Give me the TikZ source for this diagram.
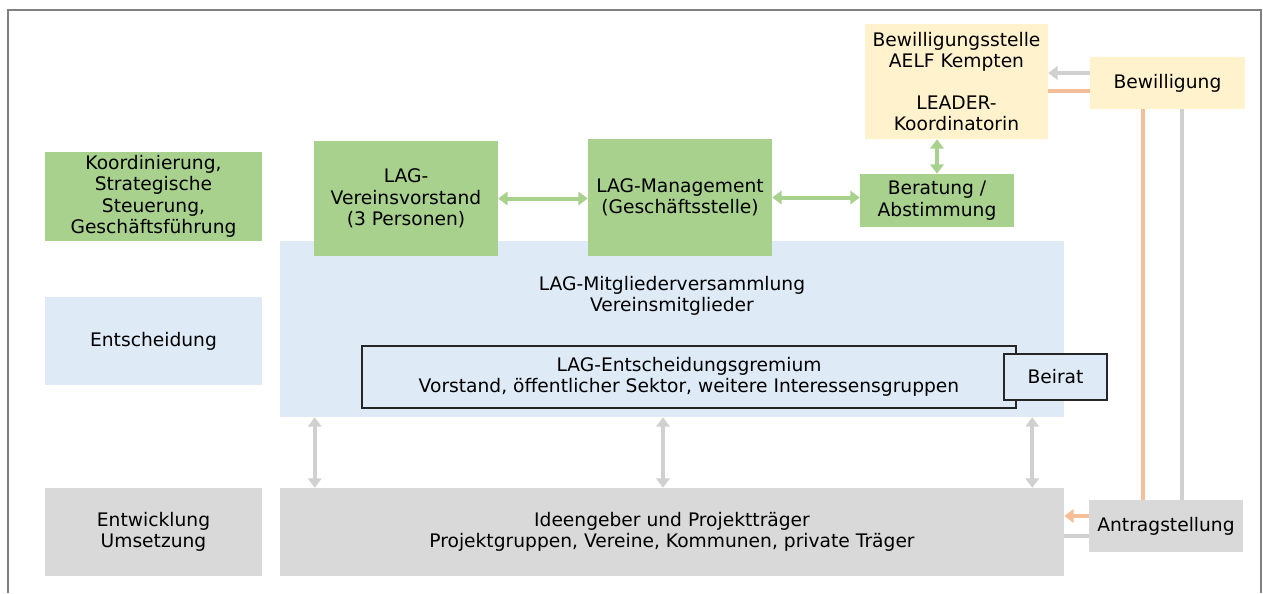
\documentclass[tikz,border=0pt]{standalone}
\usepackage{fontspec}
\setmainfont{DejaVu Sans}
\usetikzlibrary{arrows.meta}
\usetikzlibrary{calc}

\definecolor{lagGreen}{HTML}{A9D18E}
\definecolor{lagBlue}{HTML}{DEEBF7}
\definecolor{lagGray}{HTML}{D9D9D9}
\definecolor{lagYellow}{HTML}{FFF2CC}
\definecolor{lagOrange}{HTML}{F4BE98}
\definecolor{lagLine}{HTML}{D0D0D0}

\tikzset{
  box/.style={rectangle, inner sep=2pt, align=center, font=\fontsize{14}{16}\selectfont},
  sz/.style 2 args={minimum width=#1*0.75pt, minimum height=#2*0.75pt},
  greenbox/.style={box, fill=lagGreen},
  bluebox/.style={box, fill=lagBlue},
  graybox/.style={box, fill=lagGray},
  yellowbox/.style={box, fill=lagYellow},
  framebox/.style={box, fill=lagBlue, draw=black!85, line width=0.9pt},
  tip/.tip={Triangle[length=7pt,width=10pt]},
  greenarrow/.style={draw=lagGreen, line width=3pt, tip-tip},
  grayarrow/.style={draw=lagLine, line width=3pt, tip-tip},
  grayline/.style={draw=lagLine, line width=3pt},
  orangeline/.style={draw=lagOrange, line width=3pt}
}

\begin{document}
\begin{tikzpicture}[x=0.75pt, y=-0.75pt]
  \useasboundingbox (0,0) rectangle (1263,593);
  \draw[gray, line width=1.5pt] (8,593) -- (8,10) -- (1261,10) -- (1261,593);

  % left column
  \node[greenbox, sz={217}{89}] (koord) at (153.5,196.5) {Koordinierung,\\ Strategische\\ Steuerung,\\ Geschäftsführung};
  \node[bluebox, sz={217}{88}] (entsch) at (153.5,341) {Entscheidung};
  \node[graybox, sz={217}{88}] (entw) at (153.5,532) {Entwicklung\\ Umsetzung};

  % panels
  \node[bluebox, sz={784}{176}] (mv) at (672,329) {};
  \node[box] (mvtext) at (672,296) {LAG-Mitgliederversammlung\\ Vereinsmitglieder};
  \node[framebox, sz={654}{62}] (grem) at (689,377) {LAG-Entscheidungsgremium\\ Vorstand, öffentlicher Sektor, weitere Interessensgruppen};
  \node[framebox, sz={103}{46}] (beirat) at (1055.5,377) {Beirat};
  \node[graybox, sz={784}{88}] (ideen) at (672,532) {Ideengeber und Projektträger\\ Projektgruppen, Vereine, Kommunen, private Träger};

  % top row
  \node[greenbox, sz={184}{115}] (vv) at (406,198.5) {LAG-\\ Vereinsvorstand\\ (3 Personen)};
  \node[greenbox, sz={184}{117}] (mgmt) at (680,197.5) {LAG-Management\\ (Geschäftsstelle)};
  \node[greenbox, sz={154}{53}] (ber) at (937,200.5) {Beratung /\\ Abstimmung};
  \node[yellowbox, sz={183}{115}] (bst) at (956.5,81.5) {Bewilligungsstelle\\ AELF Kempten\\[15pt] LEADER-\\ Koordinatorin};
  \node[yellowbox, sz={155}{52}] (bew) at (1167.5,83) {Bewilligung};
  \node[graybox, sz={154}{52}] (antrag) at (1166,526) {Antragstellung};

  % connector ends
  \coordinate (bewG) at ($(bew.west)+(0,-10)$);
  \coordinate (bewO) at ($(bew.west)+(0,8)$);
  \coordinate (bewOv) at ($(bew.south)+(-24.5,0)$);
  \coordinate (bewGv) at ($(bew.south)+(14.5,0)$);
  \coordinate (antO) at ($(antrag.west)+(0,-10)$);
  \coordinate (antG) at ($(antrag.west)+(0,10)$);

  % connectors
  \draw[greenarrow] (vv.east) -- (vv.east -| mgmt.west);
  \draw[greenarrow] (mgmt.east) -- (mgmt.east -| ber.west);
  \draw[greenarrow] (ber.north) -- (ber.north |- bst.south);

  \draw[grayline, -tip] (bewG) -- (bewG -| bst.east);
  \draw[orangeline] (bewO) -- (bewO -| bst.east);
  \draw[orangeline] (bewOv) -- (bewOv |- antrag.north);
  \draw[grayline] (bewGv) -- (bewGv |- antrag.north);
  \draw[orangeline, -tip] (antO) -- (antO -| ideen.east);
  \draw[grayline] (antG) -- (antG -| ideen.east);

  \draw[grayarrow] ($(mv.south west)+(35,0)$) -- ($(ideen.north west)+(35,0)$);
  \draw[grayarrow] ($(mv.south)+(-9,0)$) -- ($(ideen.north)+(-9,0)$);
  \draw[grayarrow] ($(mv.south east)+(-32,0)$) -- ($(ideen.north east)+(-32,0)$);
\end{tikzpicture}
\end{document}
